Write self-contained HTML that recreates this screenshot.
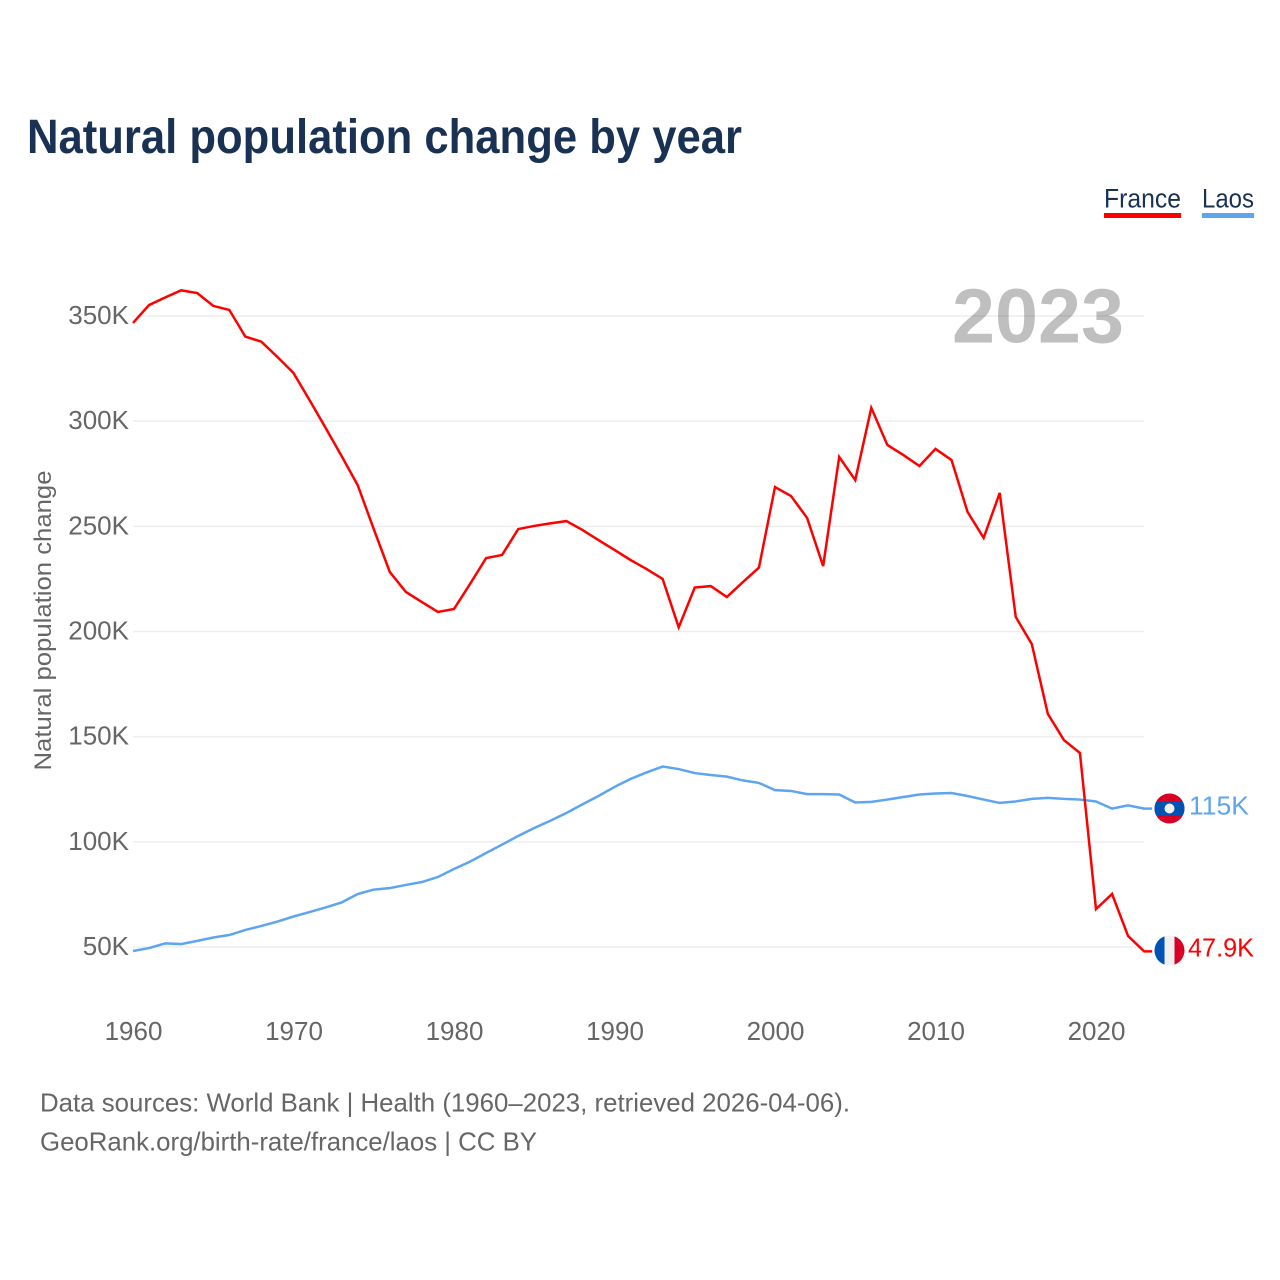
<!DOCTYPE html>
<html lang="en">
<head>
<meta charset="utf-8">
<title>Natural population change by year</title>
<style>
  html, body { margin: 0; padding: 0; background: #fff; }
  svg { display: block; font-family: "Liberation Sans", sans-serif; }
</style>
</head>
<body>
<svg id="chart" width="1280" height="1280" viewBox="0 0 1280 1280" xmlns="http://www.w3.org/2000/svg">
  <defs>
    <clipPath id="flag-clip-laos"><circle cx="1169.5" cy="808.5" r="15"></circle></clipPath>
    <clipPath id="flag-clip-france"><circle cx="1169.5" cy="950.5" r="15"></circle></clipPath>
  </defs>
  <rect x="0" y="0" width="1280" height="1280" fill="#fff"></rect>
  <text x="27" y="153" font-size="48" font-weight="700" fill="#193253" textLength="715" lengthAdjust="spacingAndGlyphs">Natural population change by year</text>

  <g>
    <text x="1104" y="207.5" font-size="26.5" fill="#193253" textLength="77" lengthAdjust="spacingAndGlyphs">France</text>
    <rect x="1104" y="213" width="77" height="5" fill="#ff0000"></rect>
  </g>
  <g>
    <text x="1202" y="207.5" font-size="26.5" fill="#193253" textLength="52" lengthAdjust="spacingAndGlyphs">Laos</text>
    <rect x="1202" y="213" width="52" height="5" fill="#5da5f0"></rect>
  </g>

  <g id="grid"></g>
  <g id="y-ticks"></g>
  <g id="x-ticks"></g>

  <text x="952" y="342.5" font-size="77" font-weight="700" fill="#000000" fill-opacity="0.25" textLength="172" lengthAdjust="spacingAndGlyphs">2023</text>

  <text transform="translate(51,770.5) rotate(-90)" font-size="24.5" fill="#666666" textLength="300" lengthAdjust="spacingAndGlyphs">Natural population change</text>

  <g id="series"></g>

  <g clip-path="url(#flag-clip-laos)">
    <rect x="1154" y="793" width="31" height="31" fill="#d80027"></rect>
    <rect x="1154" y="801.5" width="31" height="14" fill="#0052b4"></rect>
    <circle cx="1169.5" cy="808.5" r="5" fill="#f0f0f0"></circle>
  </g>
  <g clip-path="url(#flag-clip-france)">
    <rect x="1154" y="935" width="10.5" height="31" fill="#0052b4"></rect>
    <rect x="1164.5" y="935" width="10" height="31" fill="#f0f0f0"></rect>
    <rect x="1174.5" y="935" width="10.5" height="31" fill="#d80027"></rect>
  </g>

  <text x="1189" y="814.5" font-size="26" fill="#5da5f0" textLength="60" lengthAdjust="spacingAndGlyphs">115K</text>
  <text x="1188" y="956.5" font-size="26" fill="#ff0000" textLength="66" lengthAdjust="spacingAndGlyphs">47.9K</text>

  <text x="40" y="1111.5" font-size="26" fill="#666666" textLength="810" lengthAdjust="spacingAndGlyphs">Data sources: World Bank | Health (1960–2023, retrieved 2026-04-06).</text>
  <text x="40" y="1150.5" font-size="26" fill="#666666" textLength="497" lengthAdjust="spacingAndGlyphs">GeoRank.org/birth-rate/france/laos | CC BY</text>
</svg>
<script>
const startYear = 1960;
const xTickYears = [1960, 1970, 1980, 1990, 2000, 2010, 2020];
const yTickValues = [50, 100, 150, 200, 250, 300, 350];
const franceValues = [
  346.7, 355.2, 358.8, 362.2, 360.9, 354.8, 352.9, 340.2, 337.8, 330.5,
  322.9, 310.0, 296.8, 283.4, 269.6, 248.7, 228.3, 218.8, 214.0, 209.3,
  210.7, 222.6, 234.9, 236.4, 248.7, 250.2, 251.4, 252.5, 248.3, 243.5,
  238.8, 234.0, 229.7, 225.0, 202.0, 220.9, 221.6, 216.4, 223.5, 230.4,
  268.7, 264.4, 254.0, 231.1, 283.0, 272.0, 306.3, 288.7, 283.9, 278.7,
  286.8, 281.5, 256.8, 244.5, 265.9, 206.9, 194.0, 160.8, 148.4, 142.2,
  68.0, 75.2, 55.2, 47.9
];
const laosValues = [
  48.1, 49.5, 51.7, 51.4, 52.9, 54.5, 55.7, 58.1, 60.0, 62.1,
  64.5, 66.6, 68.8, 71.2, 75.2, 77.3, 78.0, 79.5, 80.9, 83.3,
  87.1, 90.6, 94.7, 98.7, 102.8, 106.6, 110.0, 113.7, 117.8, 121.8,
  126.1, 129.9, 133.0, 135.8, 134.6, 132.7, 131.8, 131.0, 129.2, 128.0,
  124.6, 124.2, 122.7, 122.7, 122.5, 118.7, 119.0, 120.1, 121.3, 122.5,
  123.0, 123.2, 121.8, 120.1, 118.5, 119.2, 120.4, 120.9, 120.4, 120.1,
  119.2, 115.8, 117.3, 115.8
];

const SVG_NS = 'http://www.w3.org/2000/svg';
const xScale = function (year) { return 133 + (year - 1960) * 16.05; };
const yScale = function (value) { return 947 - (value - 50) * 2.1033; };
const PLOT_LEFT = 133;
const PLOT_RIGHT = 1144;
const LINE_STUB = 8;

const gridGroup = document.getElementById('grid');
const yTickGroup = document.getElementById('y-ticks');
const xTickGroup = document.getElementById('x-ticks');
const seriesGroup = document.getElementById('series');

yTickValues.forEach(function (value) {
  const y = yScale(value);

  const line = document.createElementNS(SVG_NS, 'line');
  
  
  line.setAttribute('x1', PLOT_LEFT);
  line.setAttribute('x2', PLOT_RIGHT);
  line.setAttribute('y1', y);
  line.setAttribute('y2', y);
  line.setAttribute('stroke', '#eeeeee');
  line.setAttribute('stroke-width', '1.5');
  gridGroup.appendChild(line);

  const label = document.createElementNS(SVG_NS, 'text');
  
  
  label.setAttribute('x', 129);
  label.setAttribute('y', y + 8);
  label.setAttribute('text-anchor', 'end');
  label.setAttribute('font-size', '26');
  label.setAttribute('fill', '#666666');
  label.textContent = value + 'K';
  yTickGroup.appendChild(label);
});

xTickYears.forEach(function (year) {
  const label = document.createElementNS(SVG_NS, 'text');
  
  
  label.setAttribute('x', xScale(year) + 0.5);
  label.setAttribute('y', 1040);
  label.setAttribute('text-anchor', 'middle');
  label.setAttribute('font-size', '26');
  label.setAttribute('fill', '#666666');
  label.textContent = String(year);
  xTickGroup.appendChild(label);
});

function linePoints(values) {
  const points = values.map(function (value, index) {
    return xScale(startYear + index).toFixed(2) + ',' + yScale(value).toFixed(2);
  });
  const lastValue = values[values.length - 1];
  const lastYear = startYear + values.length - 1;
  points.push((xScale(lastYear) + LINE_STUB).toFixed(2) + ',' + yScale(lastValue).toFixed(2));
  return points.join(' ');
}

const laosLine = document.createElementNS(SVG_NS, 'polyline');


laosLine.setAttribute('points', linePoints(laosValues));
laosLine.setAttribute('fill', 'none');
laosLine.setAttribute('stroke', '#5da5f0');
laosLine.setAttribute('stroke-width', '2.5');
seriesGroup.appendChild(laosLine);

const franceLine = document.createElementNS(SVG_NS, 'polyline');


franceLine.setAttribute('points', linePoints(franceValues));
franceLine.setAttribute('fill', 'none');
franceLine.setAttribute('stroke', '#ff0000');
franceLine.setAttribute('stroke-width', '2.5');
seriesGroup.appendChild(franceLine);
</script>
</body>
</html>
